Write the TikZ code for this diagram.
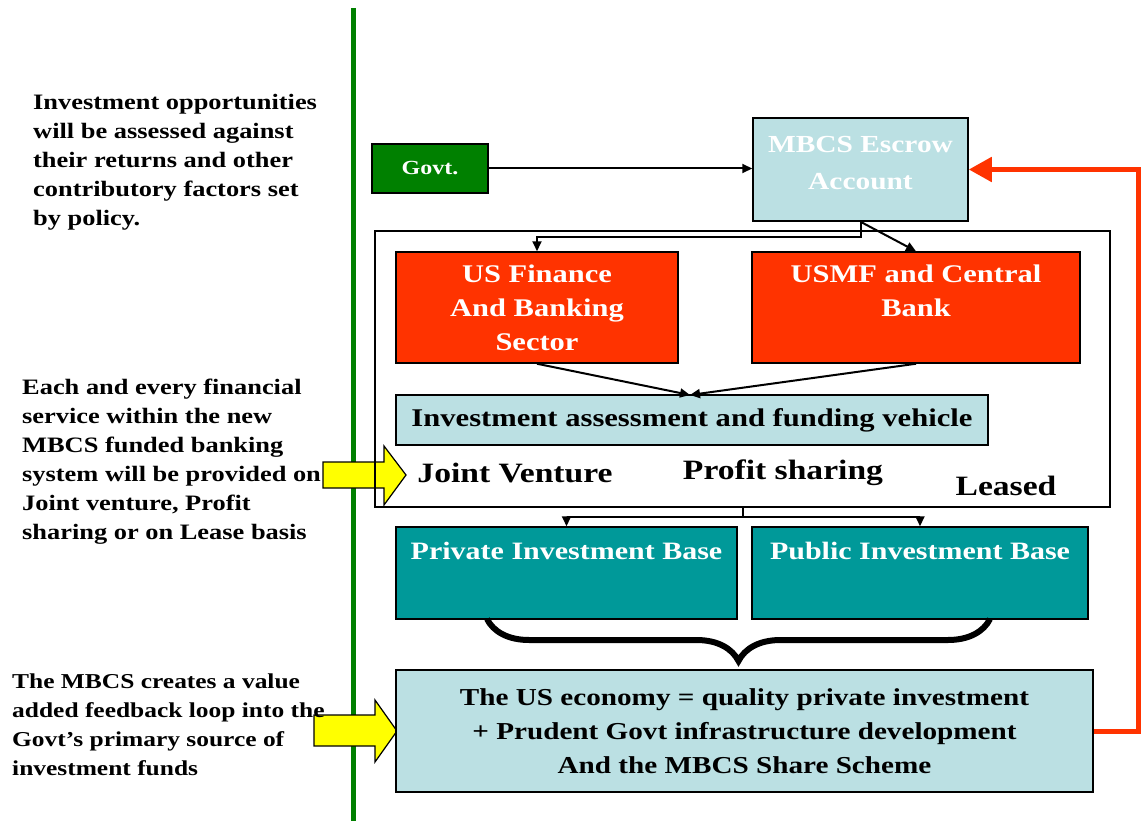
\documentclass[tikz,border=0pt]{standalone}
\usepackage{fontspec}
\setmainfont{Liberation Serif}[FakeStretch=1.2]
\usetikzlibrary{arrows.meta,decorations.pathreplacing}
\definecolor{lblue}{HTML}{BBE0E3}
\definecolor{ggreen}{HTML}{008000}
\definecolor{rorange}{HTML}{FF3300}
\definecolor{tealc}{HTML}{009999}
\definecolor{yel}{HTML}{FFFF00}
\begin{document}
\begin{tikzpicture}[x=1pt,y=-1pt,
  box/.style={draw=black,line width=1.5pt,inner sep=0pt,font=\bfseries},
  conn/.style={line width=2pt,-{Triangle[length=10pt,width=9pt]}},
  side/.style={anchor=north west,align=left,inner sep=0pt,font=\bfseries\fontsize{22}{29}\selectfont},
  big/.style={inner sep=0pt,font=\bfseries\fontsize{28}{34}\selectfont},
  yarrow/.style={draw=black,line width=1.2pt,fill=yel}]
\useasboundingbox (0,0) rectangle (1143,821);
% green divider
\draw[ggreen,line width=5pt] (353,8) -- (353,821);
% yellow block arrows
\draw[yarrow] (323,462) -- (384,462) -- (384,446) -- (406,475) -- (384,505) -- (384,488) -- (323,488) -- cycle;
\draw[yarrow] (314,715) -- (375,715) -- (375,700) -- (397,731) -- (375,762) -- (375,746) -- (314,746) -- cycle;
% side texts
\node[side] (t1) at (33,94) {Investment opportunities\\will be assessed against\\their returns and other\\contributory factors set\\by policy.};
\node[side] (t2) at (22,379) {Each and every financial\\service within the new\\MBCS funded banking\\system will be provided on\\Joint venture, Profit\\sharing or on Lease basis};
\node[side,font=\bfseries\fontsize{21.2}{29}\selectfont] (t3) at (12,674) {The MBCS creates a value\\added feedback loop into the\\Govt's primary source of\\investment funds};
% boxes
\node[box,draw=black,line width=1.2pt,minimum width=735pt,minimum height=276pt] (outer) at (742.5,369) {};
\node[box,fill=ggreen,text=white,minimum width=116pt,minimum height=49pt,font=\bfseries\fontsize{20}{25}\selectfont] (govt) at (430,168.5) {Govt.};
\node[box,fill=lblue,text=white,minimum width=215pt,minimum height=103pt,align=center,font=\bfseries\fontsize{24.5}{37}\selectfont,text depth=14pt] (escrow) at (860.5,169.5) {MBCS Escrow\\Account};
\node[box,fill=rorange,text=white,minimum width=282pt,minimum height=111pt,align=center,font=\bfseries\fontsize{25.4}{34}\selectfont] (usfin) at (537,307.5) {US Finance\\And Banking\\Sector};
\node[box,fill=rorange,text=white,minimum width=328pt,minimum height=111pt,align=center,font=\bfseries\fontsize{25.4}{34}\selectfont,text depth=34pt] (usmf) at (916,307.5) {USMF and Central\\Bank};
\node[box,fill=lblue,minimum width=592pt,minimum height=50pt,font=\bfseries\fontsize{25.5}{28}\selectfont] (invest) at (692,420) {Investment assessment and funding vehicle};
\node[big] (jv) at (515,473) {Joint Venture};
\node[big] (ps) at (783,473) {Profit sharing};
\node[big] (ls) at (1006,486) {Leased};
\node[box,fill=tealc,minimum width=341pt,minimum height=92pt] (priv) at (566.5,573) {};
\node[box,fill=tealc,minimum width=336pt,minimum height=92pt] (pub) at (920,573) {};
\node[text=white,font=\bfseries\fontsize{25}{28}\selectfont] (privt) at (566.5,551) {Private Investment Base};
\node[text=white,font=\bfseries\fontsize{25}{28}\selectfont] (pubt) at (920,551) {Public Investment Base};
\node[box,fill=lblue,minimum width=697pt,minimum height=122pt,align=center,font=\bfseries\fontsize{24.3}{34}\selectfont] (econ) at (744.5,731) {The US economy = quality private investment\\+ Prudent Govt infrastructure development\\And the MBCS Share Scheme};
% connectors
\draw[conn] (govt.east) -- (govt.east -| escrow.west);
\draw[conn] (escrow.south) -- ++(0,15) -| (usfin.north);
\draw[conn] (escrow.south) -- (usmf.north);
\coordinate (meet) at (690,395);
\draw[conn] (usfin.south) -- (meet);
\draw[conn] (usmf.south) -- (meet);
\coordinate (split) at (743,517);
\draw[line width=2pt] (outer.south -| split) -- (split);
\draw[conn] (split) -| (priv.north);
\draw[conn] (split) -| (pub.north);
\draw[line width=6pt,decorate,decoration={brace,mirror,amplitude=42pt,aspect=0.5}] (487,619) -- (990,619);
% feedback loop
\draw[rorange,line width=5pt,-{Triangle[length=23pt,width=24pt]}] (econ.east) -- ++(45,0) |- (escrow.east);
\end{tikzpicture}
\end{document}
